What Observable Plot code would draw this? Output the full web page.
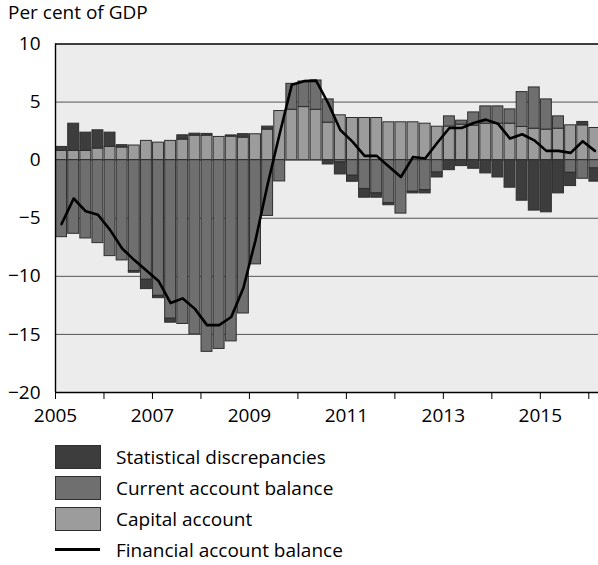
<!DOCTYPE html>
<html>
<head>
<meta charset="utf-8">
<script src="https://cdn.jsdelivr.net/npm/d3@7"></script>
<script src="https://cdn.jsdelivr.net/npm/@observablehq/plot@0.6"></script>
<style>
  body { margin: 0; background: #fff; font-family: "Open Sans", sans-serif; color: #000; }
  #wrap { position: relative; width: 598px; height: 565px; overflow: hidden; }
  #title { position: absolute; left: 8px; top: 3px; font-size: 19px; line-height: 19px; white-space: nowrap; }
  #chart { position: absolute; left: 0; top: 0; }
  .lg { position: absolute; left: 55px; height: 23px; display: flex; align-items: center; font-size: 19px; white-space: nowrap; }
  .sw { width: 44px; height: 22px; border: 1px solid #2e2e2e; box-sizing: content-box; margin-right: 15px; }
  .ln { width: 45px; height: 3px; background: #000; margin-right: 16px; }
</style>
</head>
<body>
<div id="wrap">
  <div id="chart"></div>
  <div id="title">Per cent of GDP</div>
  <div id="legend"></div>
</div>
<script>
// Quarters 2005 Q1 – 2016 Q1
const quarters = [
  "2005Q1","2005Q2","2005Q3","2005Q4","2006Q1","2006Q2","2006Q3","2006Q4",
  "2007Q1","2007Q2","2007Q3","2007Q4","2008Q1","2008Q2","2008Q3","2008Q4",
  "2009Q1","2009Q2","2009Q3","2009Q4","2010Q1","2010Q2","2010Q3","2010Q4",
  "2011Q1","2011Q2","2011Q3","2011Q4","2012Q1","2012Q2","2012Q3","2012Q4",
  "2013Q1","2013Q2","2013Q3","2013Q4","2014Q1","2014Q2","2014Q3","2014Q4",
  "2015Q1","2015Q2","2015Q3","2015Q4","2016Q1"
];

const capitalAccount = [
  0.80, 0.80, 0.80, 1.00, 1.14, 1.09, 1.26, 1.66,
  1.51, 1.66, 1.77, 2.11, 2.11, 2.00, 2.03, 1.94,
  2.23, 2.63, 4.23, 4.34, 4.57, 4.34, 3.23, 3.86,
  3.63, 3.63, 3.63, 3.26, 3.26, 3.26, 3.14, 2.88,
  2.90, 3.06, 2.97, 3.14, 3.14, 3.14, 2.86, 2.71,
  2.63, 2.71, 3.00, 3.00, 2.77
];

const currentAccount = [
  -6.63, -6.34, -6.74, -7.14, -8.26, -8.63, -9.54, -10.30,
  -11.68, -13.65, -14.10, -15.00, -16.50, -16.25, -15.60, -13.20,
  -8.97, -4.80, -1.83, 2.23, 2.20, 2.52, 2.00, -0.20,
  -1.34, -2.48, -2.86, -3.71, -4.60, -2.72, -2.57, -1.07,
  0.87, 0.34, 1.14, 1.49, 1.49, 1.23, 3.00, 3.55,
  2.60, 1.06, -1.09, -1.60, -0.71
];

const statDiscrepancies = [
  0.34, 2.34, 1.57, 1.57, 1.23, 0.20, -0.15, -0.80,
  -0.20, -0.34, 0.37, 0.17, 0.15, 0, 0.10, 0.30,
  0, 0.26, 0, 0, 0, 0, -0.37, -1.03,
  -0.52, -0.75, -0.37, -0.17, 0, -0.14, -0.29, -0.42,
  -0.86, -0.51, -0.74, -1.14, -1.49, -2.37, -3.49, -4.34,
  -4.49, -2.86, -1.14, 0.29, -1.14
];

const financialAccount = [
  -5.5, -3.3, -4.4, -4.7, -6.0, -7.6, -8.6, -9.5,
  -10.4, -12.3, -11.9, -12.8, -14.2, -14.2, -13.5, -11.0,
  -6.9, -2.1, 2.3, 6.5, 6.8, 6.85, 4.9, 2.6,
  1.6, 0.37, 0.37, -0.55, -1.45, 0.28, 0.14, 1.5,
  2.77, 2.77, 3.2, 3.49, 3.14, 1.86, 2.23, 1.71,
  0.8, 0.8, 0.63, 1.63, 0.8
];

const seriesNames = ["Capital account", "Current account balance", "Statistical discrepancies"];
const seriesColors = ["#9c9c9c", "#6f6f6f", "#3d3d3d"];
const yTicks = [-20, -15, -10, -5, 0, 5, 10];
const xTickYears = [2005, 2006, 2007, 2008, 2009, 2010, 2011, 2012, 2013, 2014, 2015, 2016];
const xLabelYears = [2005, 2007, 2009, 2011, 2013, 2015];
const legendItems = [
  {label: "Statistical discrepancies", color: "#3d3d3d"},
  {label: "Current account balance", color: "#6f6f6f"},
  {label: "Capital account", color: "#9c9c9c"},
  {label: "Financial account balance", line: true}
];

const qStart = q => +q.slice(0, 4) + (+q.slice(5) - 1) / 4;

const rows = [];
[capitalAccount, currentAccount, statDiscrepancies].forEach((vals, s) => {
  quarters.forEach((q, i) => {
    if (vals[i] !== 0) rows.push({x1: qStart(q), x2: qStart(q) + 0.25, value: vals[i], series: seriesNames[s]});
  });
});
const lineData = quarters.map((q, i) => ({x: qStart(q) + 0.125, value: financialAccount[i]}));

const chart = Plot.plot({
  width: 598,
  height: 426,
  marginTop: 43.5,
  marginBottom: 34,
  marginLeft: 55,
  marginRight: 0,
  style: {fontFamily: "Open Sans, sans-serif", fontSize: "19px", color: "#000", background: "transparent", overflow: "visible"},
  x: {domain: [2005, 2016.2], label: null},
  y: {domain: [-20, 10], label: null},
  color: {domain: seriesNames, range: seriesColors},
  marks: [
    Plot.frame({fill: "#ececec", stroke: null}),
    Plot.ruleY([5, 0, -5, -10, -15], {stroke: "#555", strokeWidth: 1}),
    Plot.rectY(rows, Plot.stackY({
      x1: "x1", x2: "x2", y: "value", fill: "series", order: null,
      stroke: "#2e2e2e", strokeWidth: 1, insetLeft: 0.6, insetRight: 0.6
    })),
    Plot.lineY(lineData, {x: "x", y: "value", stroke: "#000", strokeWidth: 2.6, strokeLinejoin: "round"}),
    Plot.ruleY([10, -20], {stroke: "#000", strokeWidth: 1.4}),
    Plot.ruleX([2005], {stroke: "#000", strokeWidth: 1.4}),
    Plot.axisX({ticks: xTickYears, label: null, tickSize: 7, tickPadding: 9, tickFormat: d => xLabelYears.includes(d) ? String(d) : "", stroke: "#000"}),
    Plot.axisY({ticks: yTicks, label: null, tickSize: 0, tickPadding: 15, tickFormat: d => d < 0 ? "\u2212" + Math.abs(d) : String(d)})
  ]
});
document.getElementById("chart").appendChild(chart);

const legend = document.getElementById("legend");
const tops = [445, 476, 507, 538];
legendItems.forEach((it, i) => {
  const row = document.createElement("div");
  row.className = "lg";
  row.style.top = tops[i] + "px";
  const mark = document.createElement("div");
  if (it.line) { mark.className = "ln"; }
  else { mark.className = "sw"; mark.style.background = it.color; }
  row.appendChild(mark);
  const txt = document.createElement("span");
  txt.textContent = it.label;
  row.appendChild(txt);
  legend.appendChild(row);
});
</script>
</body>
</html>
